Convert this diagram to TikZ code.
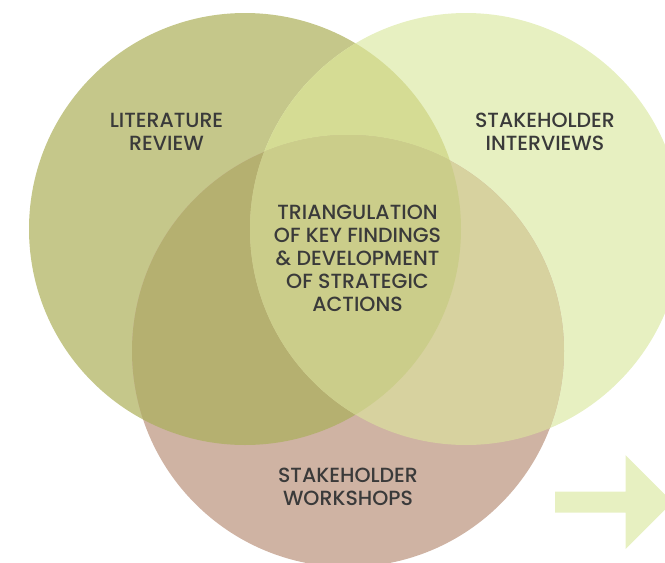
\documentclass[tikz,border=0pt]{standalone}
\usepackage{fontspec}
\setmainfont{Poppins Medium}
\definecolor{cA}{HTML}{C5C78A}
\definecolor{cB}{HTML}{E7F0C1}
\definecolor{cC}{HTML}{CFB3A3}
\definecolor{cAB}{HTML}{D5DC94}
\definecolor{cAC}{HTML}{B5B070}
\definecolor{cBC}{HTML}{D7D29F}
\definecolor{cABC}{HTML}{CBCD8A}
\definecolor{txt}{HTML}{3A3A3A}
\tikzset{
  lbl/.style={text=txt, align=center, font=\fontsize{20.5}{23}\selectfont, inner sep=0pt},
}
\begin{document}
\begin{tikzpicture}[x=1pt,y=-1pt]
\useasboundingbox (0,0) rectangle (665,563);
\coordinate (A) at (245,229);
\coordinate (B) at (466,229);
\coordinate (C) at (348,351);
\def\R{216}
\fill[cA] (A) circle[radius=\R];
\fill[cB] (B) circle[radius=\R];
\fill[cC] (C) circle[radius=\R];
\begin{scope}
  \clip (A) circle[radius=\R];
  \fill[cAB] (B) circle[radius=\R];
  \fill[cAC] (C) circle[radius=\R];
\end{scope}
\begin{scope}
  \clip (B) circle[radius=\R];
  \fill[cBC] (C) circle[radius=\R];
\end{scope}
\begin{scope}
  \clip (A) circle[radius=\R];
  \clip (B) circle[radius=\R];
  \fill[cABC] (C) circle[radius=\R];
\end{scope}
\fill[cB] (555,491.5) -- (625.5,491.5) -- (625.5,455) -- (672.5,502) -- (625.5,549) -- (625.5,512.5) -- (555,512.5) -- cycle;
\node[lbl] (lit) at (166.5,131.5) {LITERATURE\\REVIEW};
\node[lbl] (int) at (545,131.5) {STAKEHOLDER\\INTERVIEWS};
\node[lbl] (mid) at (357.5,258) {TRIANGULATION\\OF KEY FINDINGS\\\& DEVELOPMENT\\OF STRATEGIC\\ACTIONS};
\node[lbl] (ws) at (348,486.5) {STAKEHOLDER\\WORKSHOPS};
\end{tikzpicture}
\end{document}
